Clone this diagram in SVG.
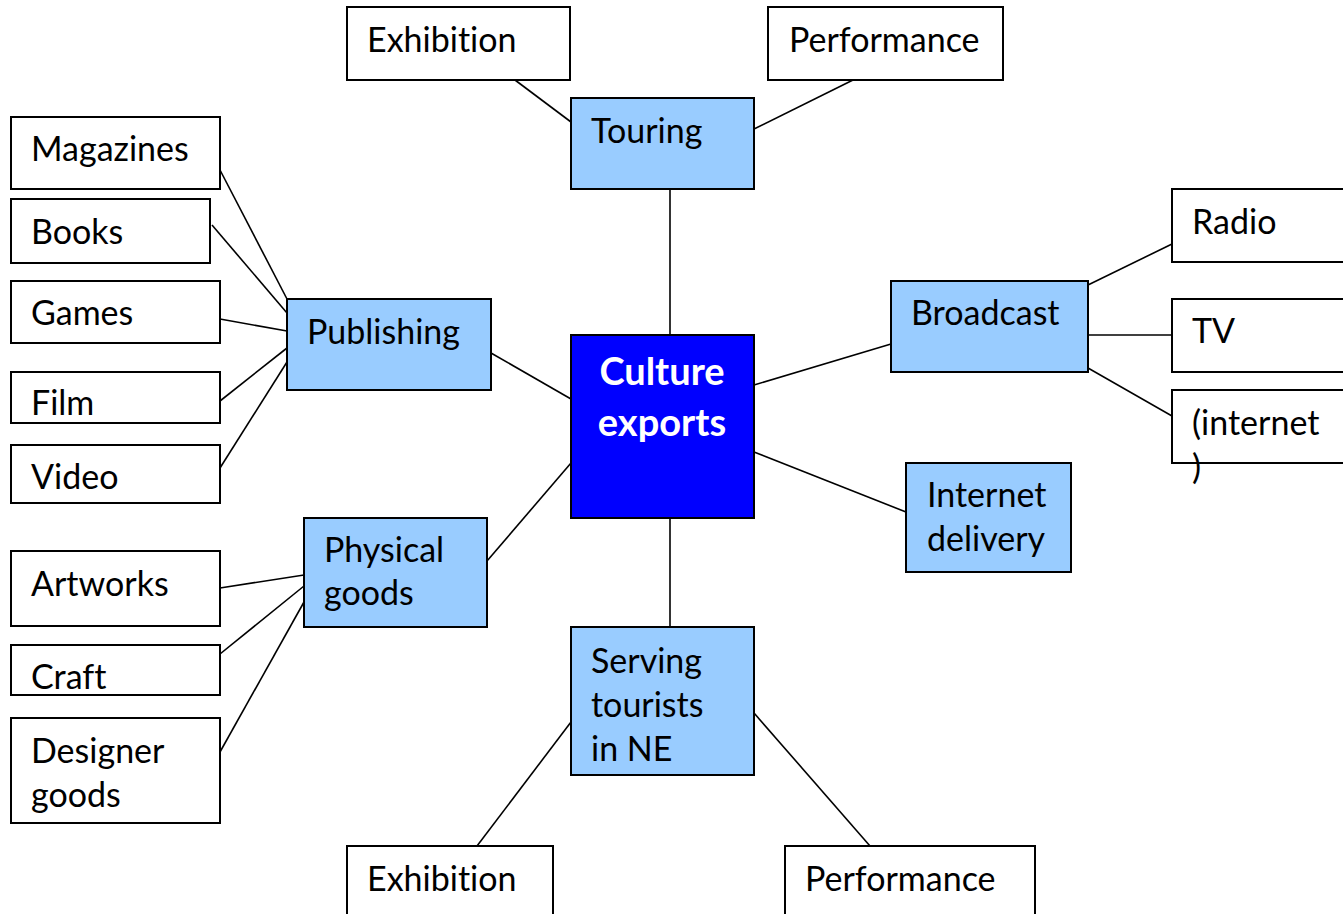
<svg xmlns="http://www.w3.org/2000/svg" width="1343" height="914" viewBox="0 0 1343 914">
<style>
.w{fill:#fff;stroke:#000;stroke-width:2}
.b{fill:#99ccff;stroke:#000;stroke-width:2}
.c{fill:#0000ff;stroke:#000;stroke-width:2}
text{font-family:Lato,"Open Sans",sans-serif;font-size:34px;fill:#000;font-variant-ligatures:none}
.t{fill:#fff;font-weight:bold;font-size:38px;text-anchor:middle}
#conn line{stroke:#000;stroke-width:1.6}
</style>
<rect width="1343" height="914" fill="#fff"/>
<g id="conn">
<line x1="515" y1="80" x2="571" y2="122"/>
<line x1="853" y1="80" x2="754" y2="129"/>
<line x1="670" y1="189" x2="670" y2="335"/>
<line x1="491" y1="353" x2="571" y2="399"/>
<line x1="754" y1="385" x2="891" y2="344"/>
<line x1="754" y1="452" x2="906" y2="512"/>
<line x1="571" y1="463" x2="487" y2="561"/>
<line x1="670" y1="518" x2="670" y2="627"/>
<line x1="220" y1="170" x2="287" y2="299"/>
<line x1="212" y1="225" x2="287" y2="313"/>
<line x1="220" y1="319" x2="287" y2="331"/>
<line x1="220" y1="401" x2="287" y2="348"/>
<line x1="220" y1="468" x2="287" y2="362"/>
<line x1="220" y1="588" x2="304" y2="575"/>
<line x1="220" y1="654" x2="304" y2="586"/>
<line x1="220" y1="752" x2="304" y2="602"/>
<line x1="1088" y1="285" x2="1172" y2="244"/>
<line x1="1088" y1="335" x2="1172" y2="335"/>
<line x1="1088" y1="368" x2="1172" y2="416"/>
<line x1="571" y1="722" x2="477" y2="846"/>
<line x1="754" y1="713" x2="870" y2="846"/>
</g>
<g id="exhibition-top"><rect class="w" x="347" y="7" width="223" height="73"/><text x="367" y="52">Exhibition</text></g>
<g id="performance-top"><rect class="w" x="768" y="7" width="235" height="73"/><text x="789" y="52">Performance</text></g>
<g id="touring"><rect class="b" x="571" y="98" width="183" height="91"/><text x="591" y="143">Touring</text></g>
<g id="magazines"><rect class="w" x="11" y="117" width="209" height="72"/><text x="31" y="161">Magazines</text></g>
<g id="books"><rect class="w" x="11" y="199" width="199" height="64"/><text x="31" y="244">Books</text></g>
<g id="games"><rect class="w" x="11" y="281" width="209" height="62"/><text x="31" y="325">Games</text></g>
<g id="film"><rect class="w" x="11" y="372" width="209" height="51"/><text x="31" y="415">Film</text></g>
<g id="video"><rect class="w" x="11" y="445" width="209" height="58"/><text x="31" y="489">Video</text></g>
<g id="publishing"><rect class="b" x="287" y="299" width="204" height="91"/><text x="307" y="344">Publishing</text></g>
<g id="culture-exports"><rect class="c" x="571" y="335" width="183" height="183"/><text class="t" x="662" y="385">Culture</text><text class="t" x="662" y="436">exports</text></g>
<g id="broadcast"><rect class="b" x="891" y="281" width="197" height="91"/><text x="911" y="325">Broadcast</text></g>
<g id="radio"><rect class="w" x="1172" y="189" width="175" height="73"/><text x="1192" y="234">Radio</text></g>
<g id="tv"><rect class="w" x="1172" y="299" width="175" height="73"/><text x="1192" y="343">TV</text></g>
<g id="internet-paren"><rect class="w" x="1172" y="390" width="175" height="73"/><text x="1192" y="435">(internet</text><text x="1192" y="479">)</text></g>
<g id="internet-delivery"><rect class="b" x="906" y="463" width="165" height="109"/><text x="927" y="507">Internet</text><text x="927" y="551">delivery</text></g>
<g id="physical-goods"><rect class="b" x="304" y="518" width="183" height="109"/><text x="324" y="562">Physical</text><text x="324" y="605">goods</text></g>
<g id="artworks"><rect class="w" x="11" y="551" width="209" height="75"/><text x="31" y="596">Artworks</text></g>
<g id="craft"><rect class="w" x="11" y="645" width="209" height="50"/><text x="31" y="689">Craft</text></g>
<g id="designer-goods"><rect class="w" x="11" y="718" width="209" height="105"/><text x="31" y="763">Designer</text><text x="31" y="807">goods</text></g>
<g id="serving-tourists"><rect class="b" x="571" y="627" width="183" height="148"/><text x="591" y="673">Serving</text><text x="591" y="717">tourists</text><text x="591" y="761">in NE</text></g>
<g id="exhibition-bottom"><rect class="w" x="347" y="846" width="206" height="80"/><text x="367" y="891">Exhibition</text></g>
<g id="performance-bottom"><rect class="w" x="785" y="846" width="250" height="80"/><text x="805" y="891">Performance</text></g>
</svg>
